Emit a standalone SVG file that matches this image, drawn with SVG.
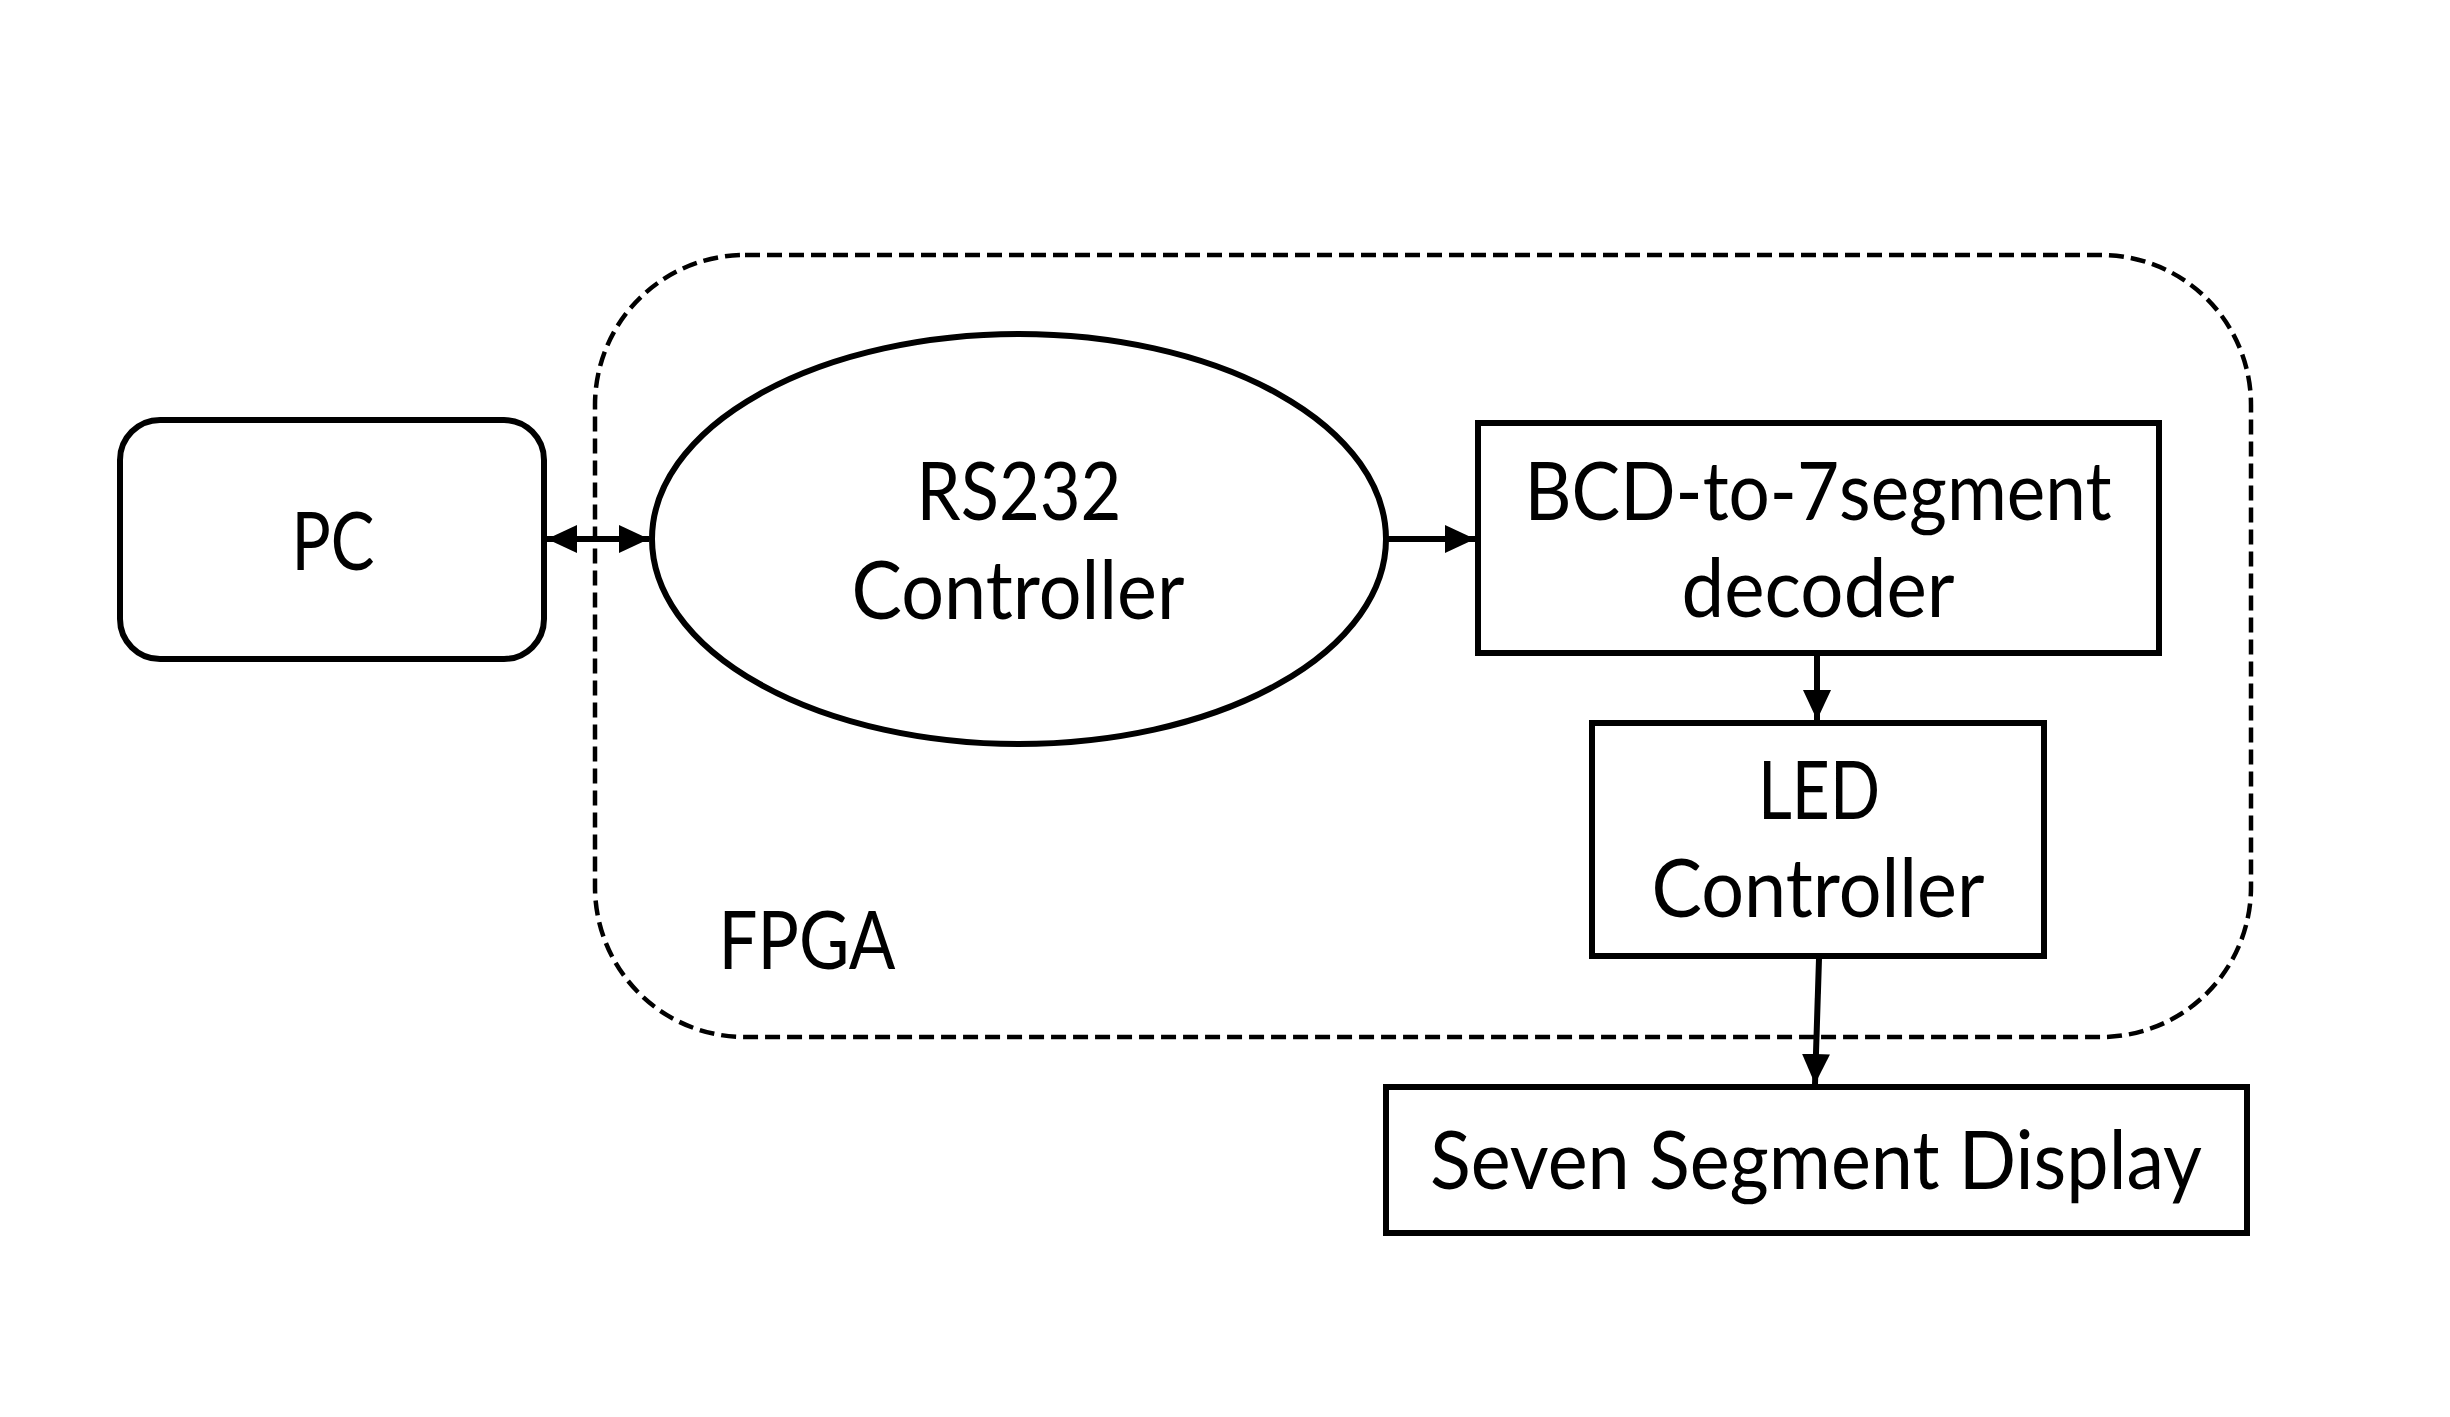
<svg xmlns="http://www.w3.org/2000/svg" width="2450" height="1417" viewBox="0 0 2450 1417">
<style>
.box{fill:#fff;stroke:#000;stroke-width:6}
.fpga{fill:none;stroke:#000;stroke-width:4.5;stroke-dasharray:15 7}
.lbl{font-family:Lato,"Open Sans","Liberation Sans",sans-serif;font-size:82px;fill:#000;text-anchor:middle}
.conn{stroke:#000;stroke-width:6;fill:none}
</style>
<defs>
<marker id="ah" markerUnits="userSpaceOnUse" markerWidth="30" markerHeight="28" viewBox="0 0 30 28" refX="30" refY="14" orient="auto-start-reverse">
<path d="M0,0 L30,14 L0,28 Z" fill="#000"/>
</marker>
</defs>
<rect width="2450" height="1417" fill="#fff"/>
<g id="fpga">
<rect class="fpga" x="595" y="255" width="1656" height="782" rx="150" ry="150"/>
<text class="lbl" x="807" y="969" textLength="177" lengthAdjust="spacingAndGlyphs">FPGA</text>
</g>
<g id="pc">
<rect class="box" x="120" y="420" width="424" height="239" rx="40" ry="40"/>
<text class="lbl" x="333" y="570" textLength="83" lengthAdjust="spacingAndGlyphs">PC</text>
</g>
<g id="rs232">
<ellipse class="box" cx="1019" cy="539" rx="367" ry="205"/>
<text class="lbl" x="1019" y="520" textLength="205" lengthAdjust="spacingAndGlyphs">RS232</text>
<text class="lbl" x="1018" y="619" textLength="333" lengthAdjust="spacingAndGlyphs">Controller</text>
</g>
<g id="bcd">
<rect class="box" x="1478" y="423" width="681" height="230"/>
<text class="lbl" x="1818" y="520" textLength="587" lengthAdjust="spacingAndGlyphs">BCD-to-7segment</text>
<text class="lbl" x="1818" y="617" textLength="273" lengthAdjust="spacingAndGlyphs">decoder</text>
</g>
<g id="led">
<rect class="box" x="1592" y="723" width="452" height="233"/>
<text class="lbl" x="1819" y="819" textLength="122" lengthAdjust="spacingAndGlyphs">LED</text>
<text class="lbl" x="1818" y="917" textLength="333" lengthAdjust="spacingAndGlyphs">Controller</text>
</g>
<g id="ssd">
<rect class="box" x="1386" y="1087" width="861" height="146"/>
<text class="lbl" x="1816" y="1189" textLength="772" lengthAdjust="spacingAndGlyphs">Seven Segment Display</text>
</g>
<g id="connectors">
<line class="conn" x1="547" y1="539" x2="649" y2="539" marker-start="url(#ah)" marker-end="url(#ah)"/>
<line class="conn" x1="1386" y1="539" x2="1475" y2="539" marker-end="url(#ah)"/>
<line class="conn" x1="1817" y1="656" x2="1817" y2="720" marker-end="url(#ah)"/>
<line class="conn" x1="1819" y1="959" x2="1815" y2="1084" marker-end="url(#ah)"/>
</g>
</svg>
